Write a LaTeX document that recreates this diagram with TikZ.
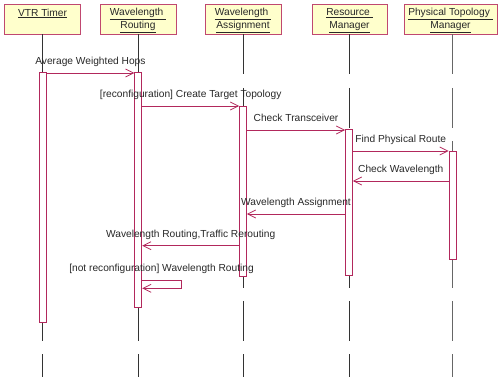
\documentclass[tikz,border=0pt]{standalone}
\usepackage{fontspec}
\setmainfont{Liberation Sans}
\usetikzlibrary{arrows.meta}
\definecolor{msgc}{RGB}{178,40,92}
\definecolor{boxline}{RGB}{192,72,112}
\definecolor{boxfill}{RGB}{255,255,204}
\definecolor{txt}{RGB}{40,40,40}
\begin{document}
\begin{tikzpicture}[x=1bp,y=-1bp,
  actor/.style={draw=boxline, fill=boxfill, line width=0.9bp, minimum height=30bp, inner sep=0pt},
  title/.style={font=\fontsize{10.2bp}{12.5bp}\selectfont, text=txt, align=center, inner sep=0pt, anchor=base},
  lifeline/.style={draw=black!80, line width=0.8bp, dash pattern=on 40bp off 13.3bp},
  actbar/.style={draw=msgc, fill=white, line width=0.8bp, minimum width=7bp, inner sep=0pt, anchor=north},
  msgline/.style={draw=msgc, line width=0.8bp, -{Straight Barb[length=8bp,width=8bp]}},
  msgtext/.style={font=\fontsize{10.2bp}{12bp}\selectfont, text=txt, inner sep=0pt, anchor=base},
  msglabel/.style={msgtext, yshift=8.5bp}
]
\useasboundingbox (0,0) rectangle (498,377);
% actors
\node[actor, minimum width=76bp] (vtr) at (42.5,19) {};
\node[actor, minimum width=76bp] (wr) at (138,19) {};
\node[actor, minimum width=76bp] (wa) at (243,19) {};
\node[actor, minimum width=75bp] (rm) at (349.5,19) {};
\node[actor, minimum width=93bp] (ptm) at (450.5,19) {};
\node[title] (vtrt) at (42.5,16) {\underline{VTR Timer}};
\node[title] (wrt) at (138,28.3) {\underline{Wavelength\ }\\\underline{Routing}};
\node[title] (wat) at (243,28.3) {\underline{Wavelength\ }\\\underline{Assignment}};
\node[title] (rmt) at (349.5,28.3) {\underline{Resource\ }\\\underline{Manager}};
\node[title] (ptmt) at (450.5,28.3) {\underline{Physical Topology\ }\\\underline{Manager}};
% lifelines
\coordinate (vtrend) at (42.5,377);
\coordinate (wrend) at (138.3,377);
\coordinate (waend) at (243,377);
\coordinate (rmend) at (349,377);
\coordinate (ptmend) at (452.5,377);
\draw[lifeline] (vtrend |- vtr.south) -- (vtrend);
\draw[lifeline] (wrend |- wr.south) -- (wrend);
\draw[lifeline] (waend |- wa.south) -- (waend);
\draw[lifeline] (rmend |- rm.south) -- (rmend);
\draw[lifeline, draw=black!60] (ptmend |- ptm.south) -- (ptmend);
% activation bars
\node[actbar, minimum height=250bp] (vtrbar) at (42.5,72) {};
\node[actbar, minimum height=235bp] (wrbar) at (138.3,72) {};
\node[actbar, minimum height=170bp] (wabar) at (243,105.7) {};
\node[actbar, minimum height=146bp] (rmbar) at (349,129.3) {};
\node[actbar, minimum height=108.6bp] (ptmbar) at (452.5,150.7) {};
% messages
\draw[msgline] (vtrbar.east |- 0,73) -- node[msglabel] (m1) {Average Weighted Hops} (wrbar.west |- 0,73);
\draw[msgline] (wrbar.east |- 0,106) -- node[msglabel] (m2) {[reconfiguration] Create Target Topology} (wabar.west |- 0,106);
\draw[msgline] (wabar.east |- 0,130) -- node[msglabel] (m3) {Check Transceiver} (rmbar.west |- 0,130);
\draw[msgline] (rmbar.east |- 0,151) -- node[msglabel] (m4) {Find Physical Route} (ptmbar.west |- 0,151);
\draw[msgline] (ptmbar.west |- 0,181) -- node[msglabel] (m5) {Check Wavelength} (rmbar.east |- 0,181);
\draw[msgline] (rmbar.west |- 0,214) -- node[msglabel] (m6) {Wavelength Assignment} (wabar.east |- 0,214);
\draw[msgline] (wabar.west |- 0,245.7) -- node[msglabel] (m7) {Wavelength Routing,Traffic Rerouting} (wrbar.east |- 0,245.7);
\coordinate (selfa) at (181,280);
\coordinate (selfb) at (181,288.3);
\draw[msgline] (wrbar.east |- selfa) -- (selfa) -- (selfb) -- (wrbar.east |- selfb);
\node[msgtext] (m8) at (161.5,271.5) {[not reconfiguration] Wavelength Routing};
\end{tikzpicture}
\end{document}
